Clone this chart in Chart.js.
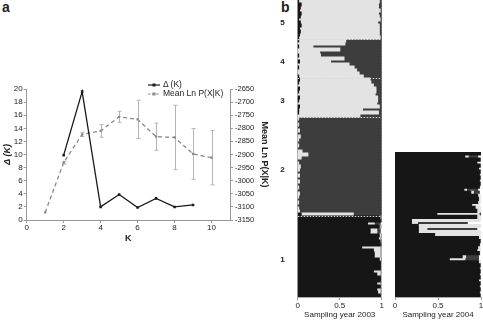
<!DOCTYPE html>
<html><head><meta charset="utf-8">
<script src="https://cdn.jsdelivr.net/npm/chart.js@4.4.1/dist/chart.umd.min.js"></script>
<style>
html,body{margin:0;padding:0;background:#fff;overflow:hidden;width:483px;height:322px;position:relative;font-family:'Liberation Sans',Arial,sans-serif;}
.box{position:absolute;}
.lab{position:absolute;font-weight:bold;font-size:14px;color:#222;line-height:14px;}
#leg{position:absolute;left:148px;top:80px;font-size:8.5px;color:#222;line-height:9px;}
#leg div{display:flex;align-items:center;white-space:nowrap;}
#leg svg{margin-right:3px;}
</style></head><body>
<div class="lab" style="left:2px;top:0px">a</div>
<div class="lab" style="left:281px;top:0px">b</div>
<div class="box" style="left:0;top:0"><canvas id="ca" width="272" height="246"></canvas></div>
<div class="box" style="left:270px;top:0"><canvas id="cb1" width="130" height="322"></canvas></div>
<div class="box" style="left:385px;top:140px"><canvas id="cb2" width="110" height="182"></canvas></div>
<div id="leg">
  <div><svg width="12" height="6"><line x1="0" y1="3" x2="12" y2="3" stroke="#1a1a1a" stroke-width="1.2"/><rect x="4.5" y="1.5" width="3" height="3" fill="#1a1a1a"/></svg><span>&Delta; (K)</span></div>
  <div><svg width="12" height="6"><line x1="0" y1="3" x2="12" y2="3" stroke="#8a8a8a" stroke-width="1.2" stroke-dasharray="2.5,1.5"/><rect x="4.5" y="1.5" width="3" height="3" fill="#8a8a8a"/></svg><span>Mean Ln P(X|K)</span></div>
</div>
<script>
// ---------- Panel a data ----------
const kValues   = [1,2,3,4,5,6,7,8,9,10];
const deltaK    = [null,9.9,19.6,2.0,3.9,1.9,3.3,2.0,2.3,null];
const meanLnP   = [-3121,-2931,-2823,-2810,-2756,-2766,-2832,-2835,-2898,-2912];
const meanLnSD  = [0,5,8,24,21,73,52,123,97,104];
const kTicks    = [0,2,4,6,8,10];

// ---------- Panel b data (ancestry proportions per individual) ----------
const popNames03 = ['5','4','3','2','1'];
const popSizes03 = [13,13,13,33,27];
const blk03 = [
 .01,.04,.03,.02,.04,.03,.01,.03,.04,.02,.03,.02,.01,
 .01,0,.01,0,0,.01,0,.02,0,.01,0,0,.01,
 .02,.01,0,.02,.01,0,.02,.01,0,.02,.01,.01,0,
 0,0,0,0,0,0,0,0,0,0,0,0,0,0,0,0,0,0,0,0,0,0,0,0,0,0,0,0,0,0,0,0,.04,
 .98,.98,.83,.97,.86,.86,.97,.96,.98,.98,.76,.90,.91,.91,.97,.98,.98,.98,.90,.94,.98,.98,.94,.98,.94,.95,.98];
const lgt03 = [
 .96,.92,.93,.96,.92,.94,.97,.92,.93,.95,.94,.95,.97,
 .56,.56,.17,.50,.26,.26,.55,.37,.61,.66,.70,.73,.77,
 .84,.86,.90,.91,.92,.92,.93,.94,.94,.95,.76,.95,.74,
 .01,0,.01,0,.02,0,.03,.01,0,.01,0,.05,.12,.04,0,.01,.03,.02,0,.02,0,.02,0,.01,0,.02,.01,0,.01,0,.01,.02,.62,
 .01,0,.08,.01,.08,.08,.02,.02,.01,0,.22,.08,.07,.07,.02,0,0,0,.08,.04,0,0,.04,0,.04,.03,0];
const drk03 = [
 .03,.04,.04,.02,.04,.03,.02,.05,.03,.03,.03,.03,.02,
 .43,.44,.82,.50,.74,.73,.45,.61,.39,.33,.30,.27,.22,
 .14,.13,.10,.07,.07,.08,.05,.05,.06,.03,.23,.04,.26,
 .99,1,.99,1,.98,1,.97,.99,1,.99,1,.95,.88,.96,1,.99,.97,.98,1,.98,1,.98,1,.99,1,.98,.99,1,.99,1,.99,.98,.34,
 .01,.02,.07,.01,.04,.04,.01,.01,.01,.02,.01,.01,.01,.01,.01,.01,.01,.01,.01,.01,.01,.01,.01,.01,.01,.01,.01];
const blk04 = [1,.81,.99,.95,.99,.97,.99,.98,.99,.98,.99,.98,.80,.88,.96,.97,.96,.89,.93,.95,.485,.95,.19,.19,.27,.27,.27,.46,
 .97,.99,.98,.96,.95,.98,.78,.63,.97,.99,.98,.99,.98,.99,.97,.99,.98,.99,.98,.99];
const lgt04 = [0,.04,.01,.03,0,.02,0,.02,0,.01,0,.01,.03,.03,.03,.02,.03,.09,.06,.04,.49,.04,.80,.07,.72,.10,.72,.53,
 .02,0,.01,.03,.04,.01,.04,.18,.02,0,.015,0,.01,0,.02,0,.01,0,.01,0];
const drk04 = [0,.11,0,0,0,0,0,0,0,0,0,0,.13,.07,0,0,0,0,0,0,.02,0,0,.58,0,.58,0,0,
 0,0,0,0,0,0,.15,.16,0,0,0,0,0,0,0,0,0,0,0,0];
const xTicksB = [0,0.5,1];
const yearTitles = ['Sampling year 2003','Sampling year 2004'];

const FONT = "'Liberation Sans', Arial, sans-serif";
const TXT = '#222', AX = '#999';
const noPad = s => { s.paddingTop = 0; s.paddingBottom = 0; s.paddingLeft = 0; s.paddingRight = 0; };

// ---------- Panel a ----------
const errorBars = {
  id:'errorBars',
  beforeDatasetsDraw(chart){
    const ctx = chart.ctx, xs = chart.scales.x, ys = chart.scales.y1;
    ctx.save(); ctx.strokeStyle = '#b5b5b5'; ctx.lineWidth = 1;
    kValues.forEach((k,i)=>{
      const sd = meanLnSD[i]; if(!sd) return;
      const x = Math.round(xs.getPixelForValue(k))+0.5;
      const y0 = ys.getPixelForValue(meanLnP[i]-sd), y1 = ys.getPixelForValue(meanLnP[i]+sd);
      ctx.beginPath(); ctx.moveTo(x,y0); ctx.lineTo(x,y1);
      ctx.moveTo(x-2,y0); ctx.lineTo(x+2,y0); ctx.moveTo(x-2,y1); ctx.lineTo(x+2,y1);
      ctx.stroke();
    });
    ctx.restore();
  }
};
new Chart(document.getElementById('ca'),{
  type:'line',
  data:{datasets:[
    {label:'\u0394 (K)', yAxisID:'y',
     data:kValues.map((k,i)=>({x:k,y:deltaK[i]})).filter(p=>p.y!==null),
     borderColor:'#1a1a1a', backgroundColor:'#1a1a1a', borderWidth:1.3,
     pointStyle:'rect', pointRadius:1.8, pointBorderWidth:0, tension:0},
    {label:'Mean Ln P(X|K)', yAxisID:'y1',
     data:kValues.map((k,i)=>({x:k,y:meanLnP[i]})),
     borderColor:'#8a8a8a', backgroundColor:'#8a8a8a', borderWidth:1.3, borderDash:[4,3],
     pointStyle:'rect', pointRadius:1.6, pointBorderWidth:0, tension:0}
  ]},
  options:{
    responsive:false, animation:false,
    layout:{padding:{top:89,left:0,right:0,bottom:0}},
    plugins:{legend:{display:false}, tooltip:{enabled:false}},
    scales:{
      x:{type:'linear', min:0, max:11, position:'bottom',
         afterBuildTicks:s=>{s.ticks = kTicks.map(v=>({value:v}));},
         afterFit:s=>{s.height=26;},
         grid:{drawOnChartArea:false, tickLength:3, color:AX}, border:{color:AX},
         ticks:{padding:0, color:TXT, font:{family:FONT,size:8}, maxRotation:0, callback:v=>String(v)},
         title:{display:true, text:'K', color:TXT, font:{family:FONT,size:9,weight:'bold'}, padding:{top:0,bottom:2}}},
      y:{position:'left', min:0, max:20,
         ticks:{stepSize:2, padding:1, color:TXT, font:{family:FONT,size:8}, callback:v=>String(v)},
         afterFit:s=>{s.width=26.7;},
         grid:{drawOnChartArea:false, tickLength:3, color:AX}, border:{color:AX},
         title:{display:true, text:'\u0394 (K)', color:TXT, font:{family:FONT,size:9,weight:'bold',style:'italic'}, padding:{top:2,bottom:0}}},
      y1:{position:'right', min:-3150, max:-2650,
         ticks:{stepSize:50, padding:2, color:TXT, font:{family:FONT,size:7.5}, callback:v=>String(v)},
         afterFit:s=>{s.width=42;},
         grid:{drawOnChartArea:false, tickLength:3, color:AX}, border:{color:AX},
         title:{display:true, text:'Mean Ln P(X|K)', color:TXT, font:{family:FONT,size:9,weight:'bold'}, padding:{top:2,bottom:2}}}
    }
  },
  plugins:[errorBars]
});

// ---------- Panel b ----------
function popBoundaryPlugin(sizes){
  return {id:'popLines', afterDatasetsDraw(chart){
    const ys = chart.scales.y, ca = chart.chartArea, ctx = chart.ctx;
    ctx.save(); ctx.strokeStyle='#d8d8d8'; ctx.lineWidth=1; ctx.setLineDash([1.5,1.5]);
    let acc = 0;
    sizes.slice(0,-1).forEach(n=>{
      acc += n;
      const y = Math.round((ys.getPixelForValue(acc-1)+ys.getPixelForValue(acc))/2)+0.5;
      ctx.beginPath(); ctx.moveTo(ca.left,y); ctx.lineTo(ca.right,y); ctx.stroke();
    });
    ctx.restore();
  }};
}
function structureChart(id, labels, blk, lgt, drk, title, yWidth, pad, sizes){
  const nz = a => a.map(v => v > 0 ? v : null);
  return new Chart(document.getElementById(id),{
    type:'bar',
    data:{labels, datasets:[
      {data:nz(blk), backgroundColor:'#161616'},
      {data:nz(lgt), backgroundColor:'#e3e3e3'},
      {data:nz(drk), backgroundColor:'#3d3d3d'}]},
    options:{
      indexAxis:'y', responsive:false, animation:false,
      layout:{padding:pad},
      datasets:{bar:{barPercentage:1, categoryPercentage:1, borderWidth:0, inflateAmount:0.6}},
      plugins:{legend:{display:false}, tooltip:{enabled:false}},
      scales:{
        x:{stacked:true, min:0, max:1,
           afterBuildTicks:s=>{s.ticks = xTicksB.map(v=>({value:v}));},
           afterFit:s=>{s.height=25; noPad(s);},
           grid:{drawOnChartArea:false, tickLength:3, color:AX}, border:{color:'#aaa'},
           ticks:{padding:1, color:TXT, font:{family:FONT,size:8}, maxRotation:0, callback:v=>String(v)},
           title:{display:true, text:title, color:TXT, font:{family:FONT,size:8}, padding:{top:0,bottom:2}}},
        y:{stacked:true,
           afterFit:s=>{s.width=yWidth; noPad(s);},
           grid:{display:false}, border:{color:'#aaa'},
           ticks:{autoSkip:false, padding:5, color:TXT, font:{family:FONT,size:8,weight:'bold'}}}
      }
    },
    plugins: sizes ? [popBoundaryPlugin(sizes)] : []
  });
}
const rowLabels03 = [];
popNames03.forEach((nm,p)=>{ for(let j=0;j<popSizes03[p];j++) rowLabels03.push(j===Math.ceil(popSizes03[p]/2)?nm:''); });
const rowLabels04 = blk04.map(()=> '');
structureChart('cb1', rowLabels03, blk03, lgt03, drk03, yearTitles[0], 27.7, {top:0,left:0,right:18.3,bottom:0}, popSizes03);
structureChart('cb2', rowLabels04, blk04, lgt04, drk04, yearTitles[1], 10, {top:12,left:0,right:14,bottom:0}, null);
</script>
</body></html>
